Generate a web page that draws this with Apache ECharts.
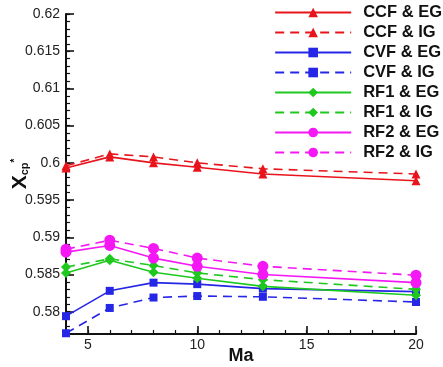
<!DOCTYPE html>
<html>
<head>
<meta charset="utf-8">
<script src="https://cdn.jsdelivr.net/npm/echarts@6/dist/echarts.min.js"></script>
<style>
  html, body { margin: 0; padding: 0; background: #fff; }
  #chart { width: 443px; height: 367px; }
</style>
</head>
<body>
<div id="chart"></div>
<script>
const machs = [4, 6, 8, 10, 13, 20];
const xTicks = [5, 10, 15, 20];
const yTicks = [0.58, 0.585, 0.59, 0.595, 0.6, 0.605, 0.61, 0.615, 0.62];

const ccfEG = [0.5993, 0.6008, 0.6000, 0.5994, 0.5985, 0.5976];
const ccfIG = [0.5996, 0.6012, 0.6008, 0.6000, 0.5992, 0.5985];
const cvfEG = [0.5794, 0.5828, 0.5839, 0.5837, 0.5831, 0.5827];
const cvfIG = [0.5771, 0.5805, 0.5819, 0.5821, 0.5820, 0.5813];
const rf1EG = [0.5852, 0.5869, 0.5853, 0.5845, 0.5834, 0.5822];
const rf1IG = [0.5860, 0.5871, 0.5862, 0.5852, 0.5843, 0.5830];
const rf2EG = [0.5880, 0.5889, 0.5872, 0.5861, 0.5850, 0.5839];
const rf2IG = [0.5884, 0.5896, 0.5885, 0.5872, 0.5861, 0.5849];

const RED = '#e8141c';
const BLUE = '#2626e6';
const GREEN = '#1ec81e';
const MAGENTA = '#f418f4';

function mk(name, vals, color, dashed, symbol, size) {
  return {
    name: name,
    type: 'line',
    data: machs.map((m, i) => [m, vals[i]]),
    symbol: symbol,
    symbolSize: size,
    clip: false,
    color: color,
    itemStyle: { color: color },
    lineStyle: { color: color, width: 1.6, type: dashed ? [9, 6] : 'solid' },
    emphasis: { disabled: true },
    animation: false
  };
}

const series = [
  mk('CCF & EG', ccfEG, RED, false, 'triangle', 9),
  mk('CCF & IG', ccfIG, RED, true, 'triangle', 9),
  mk('CVF & EG', cvfEG, BLUE, false, 'rect', 8),
  mk('CVF & IG', cvfIG, BLUE, true, 'rect', 8),
  mk('RF1 & EG', rf1EG, GREEN, false, 'diamond', 10),
  mk('RF1 & IG', rf1IG, GREEN, true, 'diamond', 10),
  mk('RF2 & EG', rf2EG, MAGENTA, false, 'circle', 11),
  mk('RF2 & IG', rf2IG, MAGENTA, true, 'circle', 11)
];

const labelFont = { fontFamily: 'Liberation Sans', fontSize: 14, color: '#222' };

const chart = echarts.init(document.getElementById('chart'));
chart.setOption({
  animation: false,
  grid: { left: 66, right: 27, top: 14, bottom: 33, outerBoundsMode: 'none', containLabel: false },
  legend: {
    data: series.map(s => s.name),
    orient: 'vertical',
    right: 1,
    top: 4,
    padding: 0,
    itemWidth: 76,
    itemHeight: 12,
    itemGap: 3,
    textStyle: { fontFamily: 'Liberation Sans', fontSize: 16.5, fontWeight: 'bold', color: '#111', lineHeight: 16, padding: [0, 0, 0, 7] },
    selectedMode: false
  },
  xAxis: [
    {
      type: 'value', min: 4, max: 20, interval: 1,
      axisLine: { lineStyle: { color: '#111', width: 2 } },
      axisTick: { inside: true, length: 4, lineStyle: { color: '#111', width: 1.2 } },
      axisLabel: { show: false },
      splitLine: { show: false }
    },
    {
      type: 'value', min: 4, max: 20, position: 'bottom',
      axisLine: { show: false },
      axisTick: { customValues: xTicks, inside: true, length: 8, lineStyle: { color: '#111', width: 1.6 } },
      axisLabel: Object.assign({ customValues: xTicks, margin: 4 }, labelFont),
      splitLine: { show: false },
      name: 'Ma',
      nameLocation: 'middle',
      nameMoveOverlap: false,
      nameGap: 13,
      nameTextStyle: { fontFamily: 'Liberation Sans', fontSize: 18, fontWeight: 'bold', color: '#111', verticalAlign: 'top' }
    }
  ],
  yAxis: [
    {
      type: 'value', min: 0.577, max: 0.62, interval: 0.001,
      axisLine: { show: true, lineStyle: { color: '#111', width: 2 } },
      axisTick: { show: true, inside: true, length: 4, lineStyle: { color: '#111', width: 1.2 } },
      axisLabel: { show: false },
      splitLine: { show: false }
    },
    {
      type: 'value', min: 0.577, max: 0.62, position: 'left',
      axisLine: { show: false },
      axisTick: { show: true, customValues: yTicks, inside: true, length: 8, lineStyle: { color: '#111', width: 1.6 } },
      axisLabel: Object.assign({ customValues: yTicks, margin: 6 }, labelFont),
      splitLine: { show: false },
      name: '{x|X}{s|cp}{t|*}',
      nameLocation: 'middle',
      nameMoveOverlap: false,
      nameRotate: 90,
      nameGap: 36,
      nameTextStyle: {
        rich: {
          x: { fontFamily: 'Liberation Sans', fontSize: 21, fontWeight: 'bold', color: '#111', lineHeight: 20 },
          s: { fontFamily: 'Liberation Sans', fontSize: 11, fontWeight: 'bold', color: '#111', lineHeight: 20, verticalAlign: 'bottom' },
          t: { fontFamily: 'Liberation Sans', fontSize: 10, fontWeight: 'bold', color: '#111', lineHeight: 14, verticalAlign: 'top' }
        }
      }
    }
  ],
  series: series
});
</script>
</body>
</html>
